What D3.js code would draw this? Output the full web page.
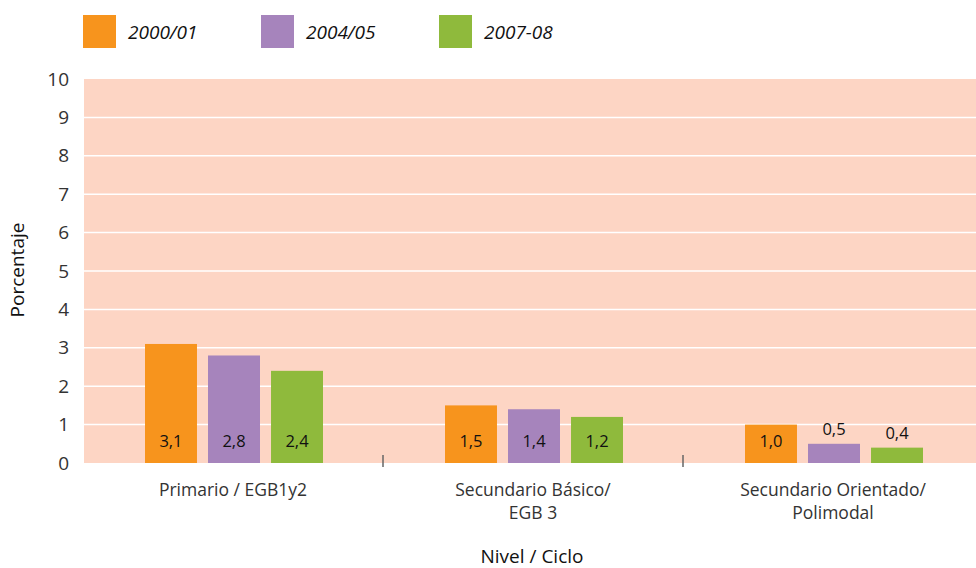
<!DOCTYPE html>
<html><head><meta charset="utf-8">
<script src="https://cdn.jsdelivr.net/npm/d3@7"></script>
<style>body{margin:0;background:#fff}svg{display:block;font-family:"Open Sans","Noto Sans",sans-serif}</style>
</head><body>
<script>
const categories = [["Primario / EGB1y2"], ["Secundario Básico/", "EGB 3"], ["Secundario Orientado/", "Polimodal"]];
const seriesNames = ["2000/01", "2004/05", "2007-08"];
const s2000 = [3.1, 1.5, 1.0];
const s2004 = [2.8, 1.4, 0.5];
const s2007 = [2.4, 1.2, 0.4];
const yTicks = [0,1,2,3,4,5,6,7,8,9,10];
const colors = ["#F7941D", "#A684BC", "#8FBA3C"];
const series = [s2000, s2004, s2007];

const W = 976, H = 568;
const svg = d3.select("body").append("svg").attr("width", W).attr("height", H);
const x0 = d3.scaleBand().domain(d3.range(categories.length)).range([83, 983]);
const x1 = d3.scaleBand().domain(d3.range(series.length)).range([0, 178]).paddingInner(0.175).paddingOuter(0);
const y = d3.scaleLinear().domain([0, 10]).range([463, 79]);

svg.append("rect").attr("x", 84).attr("y", y(10)).attr("width", W - 84).attr("height", y(0) - y(10)).attr("fill", "#FDD5C4");
svg.selectAll("line.grid").data(yTicks.filter(d => d > 0 && d < 10)).enter().append("line")
  .attr("x1", 84).attr("x2", W).attr("y1", d => y(d)).attr("y2", d => y(d))
  .attr("stroke", "#fff").attr("stroke-width", 1.5);

// y axis labels
svg.selectAll("text.yt").data(yTicks).enter().append("text")
  .attr("x", 69).attr("y", d => y(d)).attr("dy", "0.35em").attr("text-anchor", "end")
  .attr("font-size", 19).attr("fill", "#333").text(d => d);

svg.append("text").attr("transform", "translate(24,270) rotate(-90)").attr("text-anchor", "middle")
  .attr("font-size", 19).attr("fill", "#111").text("Porcentaje");

// bars
categories.forEach((c, i) => {
  const gx = x0(i) + x0.bandwidth() / 2 - 88;
  series.forEach((s, j) => {
    const v = s[i];
    const bx = gx + x1(j);
    svg.append("rect").attr("x", bx).attr("y", y(v)).attr("width", x1.bandwidth()).attr("height", y(0) - y(v)).attr("fill", colors[j]);
    const inside = v >= 0.9;
    svg.append("text").attr("x", bx + x1.bandwidth() / 2)
      .attr("y", inside ? 447 : y(v) - 9)
      .attr("text-anchor", "middle").attr("font-size", 16.5).attr("fill", "#111")
      .text(v.toFixed(1).replace(".", ","));
  });
  // category labels
  const t = svg.append("text").attr("x", x0(i) + x0.bandwidth() / 2).attr("y", 496)
    .attr("text-anchor", "middle").attr("font-size", 17.5).attr("fill", "#333");
  c.forEach((line, k) => t.append("tspan").attr("x", x0(i) + x0.bandwidth() / 2).attr("dy", k ? 23 : 0).text(line));
});

// separators
svg.selectAll("line.sep").data([1, 2]).enter().append("line")
  .attr("x1", d => x0(d)).attr("x2", d => x0(d)).attr("y1", 455).attr("y2", 467)
  .attr("stroke", "#666").attr("stroke-width", 1.5);

svg.append("text").attr("x", 532).attr("y", 563).attr("text-anchor", "middle").attr("font-size", 19).attr("fill", "#111").text("Nivel / Ciclo");

// legend
const lx = [83, 261, 439];
seriesNames.forEach((n, j) => {
  svg.append("rect").attr("x", lx[j]).attr("y", 15).attr("width", 33).attr("height", 33).attr("fill", colors[j]);
  svg.append("text").attr("x", lx[j] + 45).attr("y", 32).attr("dy", "0.35em").attr("font-size", 19)
    .attr("font-style", "italic").attr("fill", "#111").text(n);
});
</script>
</body></html>
